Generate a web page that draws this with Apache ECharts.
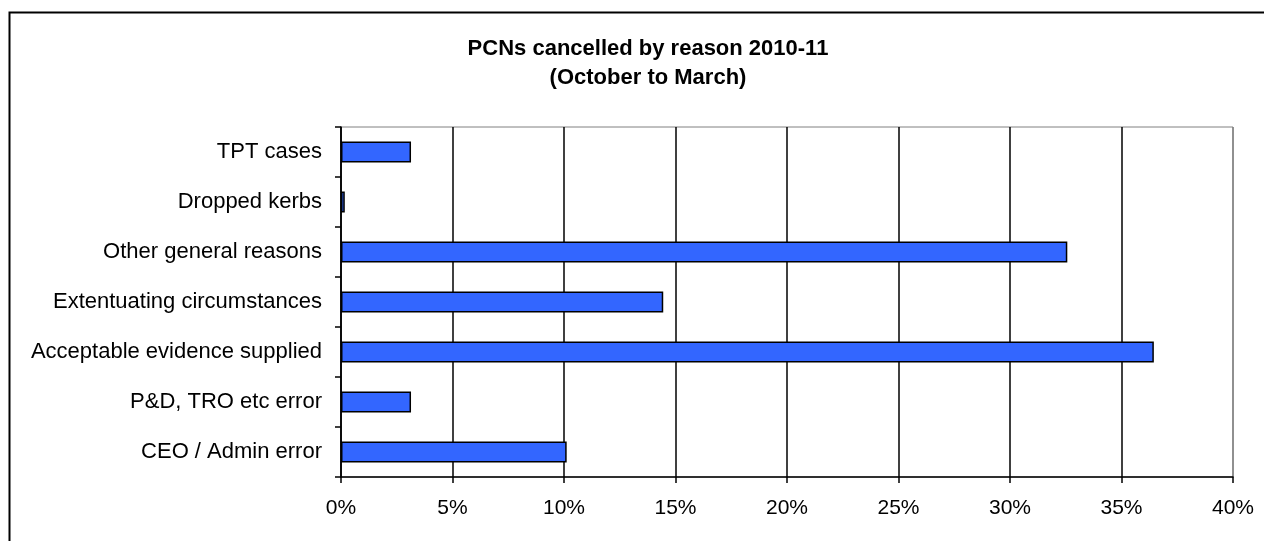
<!DOCTYPE html>
<html>
<head>
<meta charset="utf-8">
<script src="https://cdn.jsdelivr.net/npm/echarts@6/dist/echarts.min.js"></script>
<style>
  html, body { margin: 0; padding: 0; background: #fff; }
  #chart { width: 1264px; height: 541px; }
</style>
</head>
<body>
<div id="chart"></div>
<script>
// categories listed bottom to top, as the horizontal bar axis draws them
const reasons = [
  'CEO / Admin error',
  'P&D, TRO etc error',
  'Acceptable evidence supplied',
  'Extentuating circumstances',
  'Other general reasons',
  'Dropped kerbs',
  'TPT cases'
]
// share of cancelled PCNs, percent
const shares = [10.12, 3.14, 36.45, 14.45, 32.57, 0.17, 3.14]
const titleLines = ['PCNs cancelled by reason 2010-11', '(October to March)']

const font = '"Liberation Sans", Arial, sans-serif'
const chart = echarts.init(document.getElementById('chart'))

chart.setOption({
  animation: false,
  backgroundColor: '#fff',
  textStyle: { fontFamily: font },
  title: {
    text: titleLines.join('\n'),
    left: 643,
    textAlign: 'center',
    top: 29,
    textStyle: { fontSize: 22, fontWeight: 'bold', color: '#000', lineHeight: 29, fontFamily: font }
  },
  graphic: [{
    // outer chart frame (right / bottom edges fall outside the picture)
    type: 'rect',
    shape: { x: 9.5, y: 12.5, width: 1300, height: 600 },
    style: { fill: null, stroke: '#000', lineWidth: 2 },
    silent: true
  }],
  grid: {
    left: 341,
    right: 31,
    top: 127,
    bottom: 64,
    show: true,
    borderColor: '#808080',
    borderWidth: 1
  },
  xAxis: {
    type: 'value',
    min: 0,
    max: 40,
    interval: 5,
    axisLine: { show: true, lineStyle: { color: '#000', width: 1.5 } },
    axisTick: { show: true, inside: false, length: 6, lineStyle: { color: '#000', width: 1.5 } },
    axisLabel: { formatter: '{value}%', fontSize: 21, color: '#000', margin: 21, fontFamily: font },
    splitLine: {
      show: true,
      lineStyle: {
        color: ['#000', '#000', '#000', '#000', '#000', '#000', '#000', '#000', '#808080'],
        width: 1.5
      }
    }
  },
  yAxis: {
    type: 'category',
    data: reasons,
    axisLine: { show: true, lineStyle: { color: '#000', width: 1.5 } },
    axisTick: { show: true, inside: false, length: 6, lineStyle: { color: '#000', width: 1.5 } },
    axisLabel: { fontSize: 22, color: '#000', margin: 19, fontFamily: font },
    splitLine: { show: false }
  },
  series: [{
    type: 'bar',
    data: shares,
    barWidth: 21,
    itemStyle: { color: '#3366FF', borderColor: '#000', borderWidth: 1.5 }
  }]
})
</script>
</body>
</html>
